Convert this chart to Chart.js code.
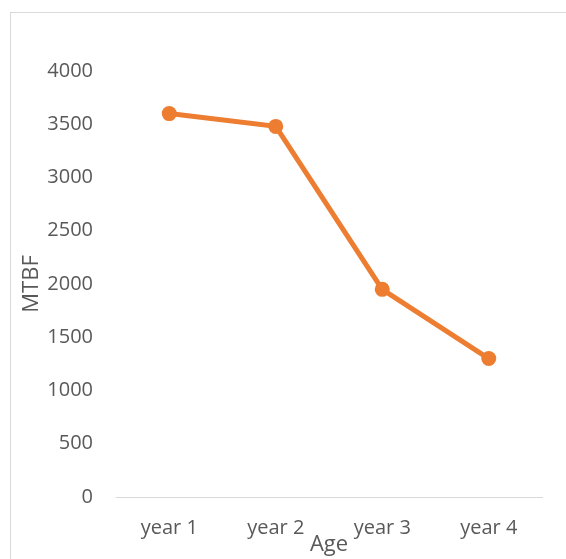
<!DOCTYPE html>
<html>
<head>
<meta charset="utf-8">
<script src="https://cdn.jsdelivr.net/npm/chart.js@4/dist/chart.umd.min.js"></script>
<style>
  html, body { margin: 0; padding: 0; background: #ffffff; overflow: hidden; }
  #wrap { position: relative; width: 566px; height: 559px; }
  #frame { position: absolute; left: 10px; top: 12px; width: 620px; height: 620px;
           border: 1px solid #d9d9d9; box-sizing: border-box; }
  #chart { position: absolute; left: 0; top: 0; }
</style>
</head>
<body>
<div id="wrap">
  <div id="frame"></div>
  <canvas id="chart" width="566" height="559"></canvas>
</div>
<script>
// Mean time between failures by equipment age
const categories = ['year 1', 'year 2', 'year 3', 'year 4'];
const mtbf = [3600, 3480, 1950, 1300];
const yTicks = [0, 500, 1000, 1500, 2000, 2500, 3000, 3500, 4000];

const textColor = '#595959';
const fontFamily = '"Open Sans", "Noto Sans", sans-serif';

new Chart(document.getElementById('chart'), {
  type: 'line',
  data: {
    labels: categories,
    datasets: [{
      label: 'MTBF',
      data: mtbf,
      borderColor: '#ED7D31',
      backgroundColor: '#ED7D31',
      borderWidth: 5,
      pointRadius: 7.5,
      pointHoverRadius: 7.5,
      pointBorderWidth: 0,
      tension: 0,
      fill: false
    }]
  },
  options: {
    responsive: false,
    animation: false,
    layout: { padding: { top: 71, right: 24, bottom: 0, left: 0 } },
    plugins: { legend: { display: false }, tooltip: { enabled: false } },
    scales: {
      x: {
        offset: true,
        grid: { display: false, drawTicks: false, offset: true },
        border: { display: true, color: '#d9d9d9', width: 1 },
        ticks: { color: textColor, padding: 19, font: { family: fontFamily, size: 20 } },
        title: {
          display: true, text: 'Age', color: textColor,
          font: { family: fontFamily, size: 22 },
          padding: { top: 0, bottom: 1 }
        },
        afterFit(scale) { scale.height = 62; }
      },
      y: {
        min: 0,
        max: 4000,
        afterBuildTicks(scale) { scale.ticks = yTicks.map(v => ({ value: v })); },
        grid: { display: false, drawTicks: false },
        border: { display: false },
        ticks: {
          color: textColor, padding: 23, font: { family: fontFamily, size: 20 },
          callback: v => String(v)
        },
        title: {
          display: true, text: 'MTBF', color: textColor,
          font: { family: fontFamily, size: 22 },
          padding: { top: 19, bottom: 0 }
        },
        afterFit(scale) { scale.width = 116; }
      }
    }
  }
});
</script>
</body>
</html>
